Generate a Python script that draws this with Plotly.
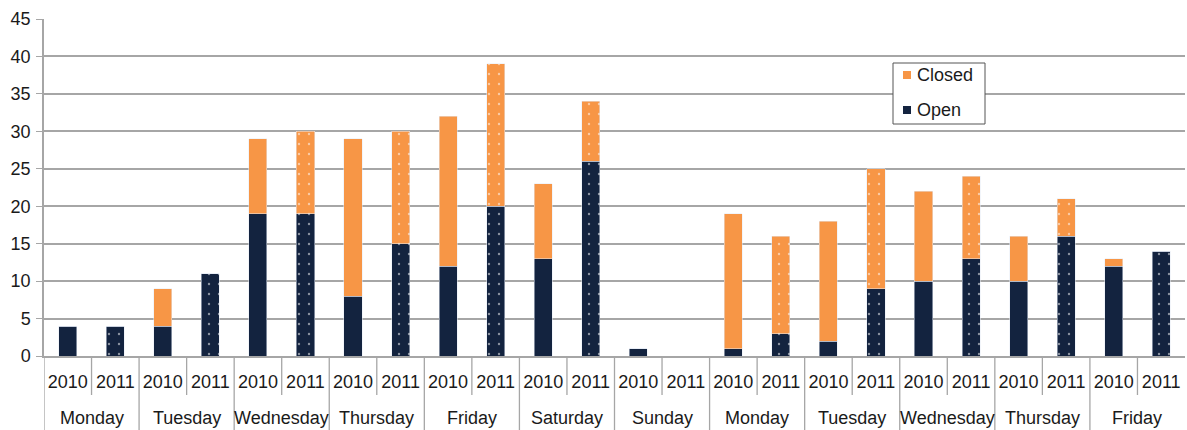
import plotly.graph_objects as go

days = ["Monday", "Tuesday", "Wednesday", "Thursday", "Friday", "Saturday", "Sunday",
        "Monday", "Tuesday", "Wednesday", "Thursday", "Friday"]
years = ["2010", "2011"]
open_2010 = [4, 4, 19, 8, 12, 13, 1, 1, 2, 10, 10, 12]
closed_2010 = [0, 5, 10, 21, 20, 10, 0, 18, 16, 12, 6, 1]
open_2011 = [4, 11, 19, 15, 20, 26, 0, 3, 9, 13, 16, 14]
closed_2011 = [0, 0, 11, 15, 19, 8, 0, 13, 16, 11, 5, 0]
y_ticks = [0, 5, 10, 15, 20, 25, 30, 35, 40, 45]
legend_items = ["Closed", "Open"]

NAVY = "#13233f"
ORANGE = "#f79646"
FONT = "Liberation Sans, Arial, sans-serif"
TXT = "#1a1a1a"
GRID = "#a6a6a6"

n = len(days)
x10 = [2 * i for i in range(n)]
x11 = [2 * i + 1 for i in range(n)]
dots = dict(shape=".", fgcolor="white", size=10, solidity=0.045)

fig = go.Figure()
fig.add_trace(go.Bar(x=x10, y=open_2010, name="Open", marker_color=NAVY, width=0.38, showlegend=False))
fig.add_trace(go.Bar(x=x11, y=open_2011, name="Open", marker=dict(color=NAVY, pattern=dots),
                     width=0.38, showlegend=False))
fig.add_trace(go.Bar(x=x10, y=closed_2010, name="Closed", marker_color=ORANGE, width=0.38,
                     showlegend=False))
fig.add_trace(go.Bar(x=x11, y=closed_2011, name="Closed", marker=dict(color=ORANGE, pattern=dots),
                     width=0.38, showlegend=False))

L, R, T, B = 44, 2, 19, 74
W_PLOT = 1187 - L - R
H_PLOT = 430 - T - B


def px(xp):
    return (xp - L) / W_PLOT


def py(yp):
    return (T + H_PLOT - yp) / H_PLOT


shapes = []
for i in range(n):
    shapes.append(dict(type="line", xref="x", yref="paper", x0=2 * i + 0.5, x1=2 * i + 0.5,
                       y0=0, y1=-39 / H_PLOT, line=dict(color=GRID, width=1.3)))
    shapes.append(dict(type="line", xref="x", yref="paper", x0=2 * i - 0.5, x1=2 * i - 0.5,
                       y0=0, y1=-74 / H_PLOT, line=dict(color=GRID, width=1.3)))

annotations = []
for i, d in enumerate(days):
    annotations.append(dict(x=2 * i + 0.5, xref="x", y=0, yref="paper", yshift=-62,
                            text=d, showarrow=False, yanchor="middle",
                            font=dict(family=FONT, size=18, color=TXT)))

# legend box drawn manually
shapes.append(dict(type="rect", xref="paper", yref="paper", x0=px(893), x1=px(985),
                   y0=py(124), y1=py(63), line=dict(color="#555555", width=1),
                   fillcolor="white", layer="above"))
leg_colors = [ORANGE, NAVY]
leg_y = [75, 110]
for name, col, yc in zip(legend_items, leg_colors, leg_y):
    shapes.append(dict(type="rect", xref="paper", yref="paper", x0=px(903), x1=px(911),
                       y0=py(yc + 4), y1=py(yc - 4), line=dict(width=0),
                       fillcolor=col, layer="above"))
    annotations.append(dict(x=px(915), y=py(yc), xref="paper", yref="paper", text=name,
                            showarrow=False, xanchor="left", yanchor="middle",
                            font=dict(family=FONT, size=18, color=TXT)))

tickvals = list(range(2 * n))
ticktext = [years[k % 2] for k in tickvals]

fig.update_layout(
    width=1187, height=430,
    margin=dict(l=L, r=R, t=T, b=B),
    barmode="stack",
    plot_bgcolor="white", paper_bgcolor="white",
    font=dict(family=FONT, size=18, color=TXT),
    shapes=shapes, annotations=annotations,
    showlegend=False,
    xaxis=dict(range=[-0.5, 2 * n - 0.5], tickvals=tickvals, ticktext=ticktext,
               ticks="", showgrid=False, showline=True, linecolor=GRID, linewidth=1.5,
               ticklabelstandoff=9, tickfont=dict(size=18, color=TXT), zeroline=False),
    yaxis=dict(range=[0, 45], tickvals=y_ticks, showgrid=True, gridcolor=GRID, gridwidth=1.5,
               showline=True, linecolor=GRID, linewidth=1.5, ticks="outside", ticklen=6,
               tickcolor=GRID, tickfont=dict(size=18, color=TXT), zeroline=False,
               ticklabelstandoff=2),
)

fig.write_html("out.html")
